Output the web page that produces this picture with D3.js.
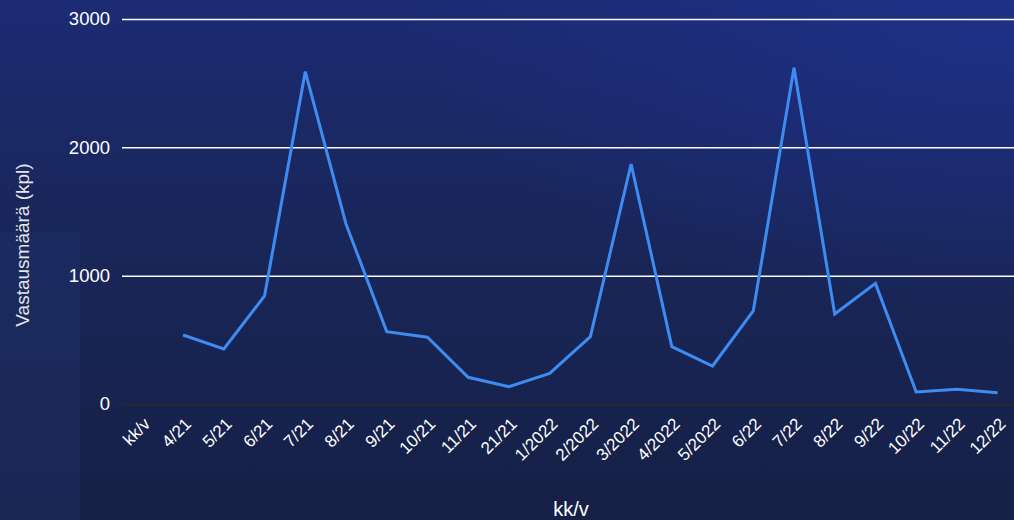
<!DOCTYPE html>
<html>
<head>
<meta charset="utf-8">
<script src="https://cdn.jsdelivr.net/npm/d3@7"></script>
<style>
  html, body { margin: 0; padding: 0; background: #18224f; }
  svg { display: block; font-family: "Liberation Sans", Arial, sans-serif; }
</style>
</head>
<body>
<svg width="1014" height="520"></svg>
<script>
var categories = ["kk/v", "4/21", "5/21", "6/21", "7/21", "8/21", "9/21", "10/21", "11/21", "21/21",
    "1/2022", "2/2022", "3/2022", "4/2022", "5/2022", "6/22", "7/22", "8/22", "9/22", "10/22", "11/22", "12/22"];

var values = [null, 538, 429, 842, 2590, 1403, 564, 520, 208, 135,
    239, 525, 1870, 447, 296, 725, 2620, 701, 940, 94, 115, 88];

var yTicks = [0, 1000, 2000, 3000];

var svg = d3.select("svg"),
    width = +svg.attr("width"),
    height = +svg.attr("height");

// background
var defs = svg.append("defs");
var bg = defs.append("linearGradient").attr("id", "bg")
    .attr("x1", 0).attr("y1", 0).attr("x2", 0).attr("y2", 1);
bg.append("stop").attr("offset", "0%").attr("stop-color", "#1c2b74");
bg.append("stop").attr("offset", "45%").attr("stop-color", "#192659");
bg.append("stop").attr("offset", "100%").attr("stop-color", "#162046");

var glow = defs.append("radialGradient").attr("id", "glow")
    .attr("cx", 1).attr("cy", 0).attr("r", 0.6);
glow.append("stop").attr("offset", "0%").attr("stop-color", "#1f3088").attr("stop-opacity", 0.9);
glow.append("stop").attr("offset", "100%").attr("stop-color", "#1f3088").attr("stop-opacity", 0);

svg.append("rect").attr("width", width).attr("height", height).attr("fill", "url(#bg)");
svg.append("rect").attr("width", width).attr("height", height).attr("fill", "url(#glow)");
svg.append("rect").attr("x", 0).attr("y", 232).attr("width", 80).attr("height", 288)
    .attr("fill", "#1d2f66").attr("opacity", 0.5);

var margin = { left: 122, right: -4, top: 19, bottom: 116 };

var x = d3.scaleBand()
    .domain(categories)
    .range([margin.left, width - margin.right])
    .padding(0);

var y = d3.scaleLinear()
    .domain([0, 3000])
    .range([height - margin.bottom, margin.top]);

// grid + y axis
var yAxis = svg.append("g")
    .attr("transform", "translate(" + margin.left + ",0)")
    .call(d3.axisLeft(y).tickValues(yTicks).tickSize(-(width - margin.left)).tickPadding(12).tickFormat(d3.format("d")));
yAxis.select(".domain").remove();
yAxis.selectAll(".tick line")
    .attr("stroke", function(d) { return d === 0 ? "#2a2a2a" : "#ffffff"; })
    .attr("stroke-width", function(d) { return d === 0 ? 2 : 1.5; });
yAxis.selectAll(".tick text")
    .attr("fill", "#ffffff")
    .attr("font-size", 18.5);

// x labels
var xAxis = svg.append("g")
    .attr("transform", "translate(0," + (height - margin.bottom) + ")")
    .call(d3.axisBottom(x).tickSize(0).tickPadding(0));
xAxis.select(".domain").remove();
xAxis.selectAll(".tick text")
    .attr("fill", "#ffffff")
    .attr("font-size", 17)
    .attr("text-anchor", "end")
    .attr("dy", 0)
    .attr("transform", "translate(9,21) rotate(-45)");

// line
var line = d3.line()
    .defined(function(d) { return d != null; })
    .x(function(d, i) { return x(categories[i]) + x.bandwidth() / 2; })
    .y(function(d) { return y(d); });

svg.append("path")
    .datum(values)
    .attr("fill", "none")
    .attr("stroke", "#3e8cf2")
    .attr("stroke-width", 3)
    .attr("stroke-linejoin", "miter")
    .attr("d", line);

// axis titles
svg.append("text")
    .attr("transform", "translate(29," + 245 + ") rotate(-90)")
    .attr("text-anchor", "middle")
    .attr("fill", "#e6e6e6")
    .attr("font-size", 19)
    .text("Vastausmäärä (kpl)");

svg.append("text")
    .attr("x", 571)
    .attr("y", 516)
    .attr("text-anchor", "middle")
    .attr("fill", "#ffffff")
    .attr("font-size", 20)
    .text("kk/v");
</script>
</body>
</html>
